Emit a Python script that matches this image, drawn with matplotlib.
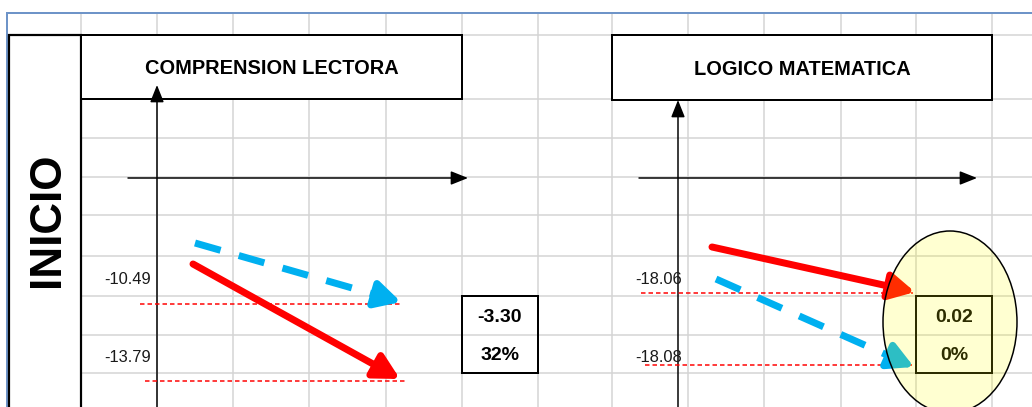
import matplotlib
matplotlib.use("Agg")
import matplotlib.pyplot as plt
from matplotlib.patches import Rectangle, Ellipse, FancyArrowPatch

# ---- data ----
level = "INICIO"
areas = ["COMPRENSION LECTORA", "LOGICO MATEMATICA"]
upper_vals = [-10.49, -18.06]
lower_vals = [-13.79, -18.08]
diffs = [-3.30, 0.02]
pcts = [32, 0]

# ---- layout (pixel space) ----
W, H = 1032, 407
fig = plt.figure(figsize=(W / 100, H / 100), dpi=100)
ax = fig.add_axes([0, 0, 1, 1])
ax.set_xlim(0, W)
ax.set_ylim(H, 0)
ax.axis("off")

PT = 72 / 100  # px -> pt
GRID = "#D4D4D4"
cols = [81, 157, 233, 309, 386, 462, 538, 612, 688, 764, 841, 916, 992]
rows = [35, 99, 138, 177, 215, 256, 296, 335, 373]

# spreadsheet grid
for x in cols:
    ax.plot([x, x], [13, H], color=GRID, lw=1.5 * PT, zorder=1)
for y in rows:
    ax.plot([81, W], [y, y], color=GRID, lw=1.5 * PT, zorder=1)

# top blue line and left border
ax.plot([7, W], [13, 13], color="#6E94C8", lw=2 * PT, zorder=2)
ax.plot([7, 7], [13, H], color="#6E94C8", lw=2 * PT, zorder=2)

# INICIO merged cell
ax.add_patch(Rectangle((9, 35), 72, 380, facecolor="white", edgecolor="black", lw=2.2 * PT, zorder=3))
ax.text(48, 220, level, rotation=90, ha="center", va="center", fontsize=44 * PT,
        fontweight="bold", family="Liberation Sans", zorder=4)

panels = [
    dict(title_box=(81, 35, 381, 64), vx=157, vtop=85, hx0=128, hx1=468, hy=178,
         ylines=[304, 381], lx=[(140, 402), (145, 405)], labx=128, laby=[280, 358],
         red=((193, 264), (400, 379)), blue=((195, 243), (401, 302)),
         box=(462, 296, 76, 77)),
    dict(title_box=(612, 35, 380, 65), vx=678, vtop=100, hx0=639, hx1=977, hy=178,
         ylines=[293, 365], lx=[(641, 913), (645, 913)], labx=659, laby=[280, 357],
         red=((712, 247), (915, 292)), blue=((716, 279), (914, 367)),
         box=(916, 296, 76, 77)),
]

AX_HEAD = "-|>,head_length=1.5,head_width=0.6"
ARROW_HEAD = "-|>,head_length=7.5,head_width=4"
for i, p in enumerate(panels):
    bx, by, bw, bh = p["title_box"]
    ax.add_patch(Rectangle((bx, by), bw, bh, facecolor="white", edgecolor="black", lw=2 * PT, zorder=3))
    ax.text(bx + bw / 2, by + bh / 2 + 2, areas[i], ha="center", va="center",
            fontsize=20 * PT, fontweight="bold", family="Liberation Sans", zorder=4)

    # axes arrows
    ax.add_patch(FancyArrowPatch((p["vx"], H + 5), (p["vx"], p["vtop"]), arrowstyle=AX_HEAD,
                                 color="black", lw=1.5 * PT, shrinkA=0, shrinkB=0,
                                 mutation_scale=7, zorder=5))
    ax.add_patch(FancyArrowPatch((p["hx0"], p["hy"]), (p["hx1"], p["hy"]), arrowstyle=AX_HEAD,
                                 color="black", lw=1.5 * PT, shrinkA=0, shrinkB=0,
                                 mutation_scale=7, zorder=5))

    # reference dashed lines and labels
    for (x0, x1), y, ly, v in zip(p["lx"], p["ylines"], p["laby"], [upper_vals[i], lower_vals[i]]):
        ax.plot([x0, x1], [y, y], color="red", lw=1.5 * PT, ls=(0, (3, 2)), zorder=5)
        ax.text(p["labx"], ly, f"{v:.2f}", ha="center", va="center",
                fontsize=16.5 * PT, family="Liberation Sans", color="#1a1a1a", zorder=6)

    # red solid arrow
    (rx0, ry0), (rx1, ry1) = p["red"]
    ax.add_patch(FancyArrowPatch((rx0, ry0), (rx1, ry1), arrowstyle=ARROW_HEAD,
                                 color="#FF0000", lw=7 * PT, shrinkA=0, shrinkB=0,
                                 mutation_scale=2, zorder=6))
    # blue dashed arrow
    (bx0, by0), (bx1, by1) = p["blue"]
    f = 0.88
    mx, my = bx0 + (bx1 - bx0) * f, by0 + (by1 - by0) * f
    ax.plot([bx0, mx], [by0, my], color="#00B0F0", lw=7 * PT, ls=(0, (3.8, 2.7)),
            solid_capstyle="butt", dash_capstyle="butt", zorder=6)
    ax.add_patch(FancyArrowPatch((mx, my), (bx1, by1), arrowstyle=ARROW_HEAD,
                                 color="#00B0F0", lw=7 * PT, shrinkA=0, shrinkB=0,
                                 mutation_scale=2, zorder=6))

    # result box (transparent, grid shows through)
    qx, qy, qw, qh = p["box"]
    ax.add_patch(Rectangle((qx, qy), qw, qh, facecolor="none", edgecolor="black", lw=2 * PT, zorder=4))
    ax.text(qx + qw / 2, qy + 22, f"{diffs[i]:.2f}", ha="center", va="center",
            fontsize=19.5 * PT, fontweight="bold", family="Liberation Sans", zorder=5)
    ax.text(qx + qw / 2, qy + 60, f"{pcts[i]}%", ha="center", va="center",
            fontsize=19.5 * PT, fontweight="bold", family="Liberation Sans", zorder=5)

# highlight ellipse on second panel
ax.add_patch(Ellipse((950, 322), 134, 182, facecolor="#FFFF00", alpha=0.18, edgecolor="none", zorder=8))
ax.add_patch(Ellipse((950, 322), 134, 182, facecolor="none", edgecolor="black", lw=1.5 * PT, zorder=8))

fig.savefig("out.png", dpi=100)
